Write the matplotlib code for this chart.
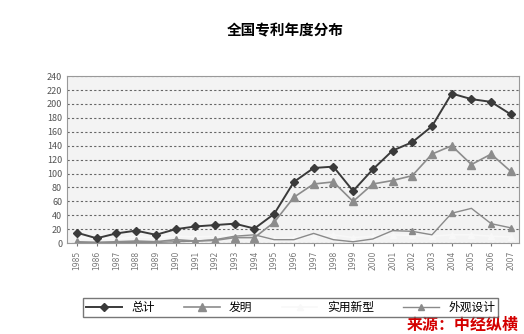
import matplotlib
matplotlib.use("Agg")

import matplotlib.pyplot as plt

plt.rcParams['font.family'] = ['Noto Sans CJK SC', 'DejaVu Sans']

years = [str(y) for y in range(1985, 2008)]
total = [15, 7, 14, 18, 12, 20, 24, 26, 28, 21, 42, 88, 108, 110, 75, 106, 133, 145, 168, 215, 207, 203, 185]
invention = [2, 1, 2, 3, 2, 5, 3, 4, 8, 8, 30, 66, 85, 88, 60, 85, 90, 97, 128, 140, 113, 128, 103]
utility = [8, 8, 6, 9, 8, 10, 9, 10, 12, 10, 6, 8, 10, 12, 8, 10, 12, 11, 10, 12, 12, 10, 9]
design = [1, 1, 1, 1, 1, 2, 3, 5, 10, 12, 5, 5, 14, 5, 2, 6, 18, 17, 12, 43, 50, 28, 22]
ylabels = list(range(0, 241, 20))

fig = plt.figure(figsize=(5.24, 3.34), dpi=100)
ax = fig.add_axes([0.128, 0.272, 0.862, 0.5])
ax.set_facecolor('#f3f3f3')

x = range(len(years))
ax.plot(x, utility, color='#f8f8f8', marker='^', ms=5, lw=1.2, label='实用新型')
ax.plot(x, design, color='#8a8a8a', marker='^', ms=5, lw=1.0, label='外观设计', markevery=[17, 19, 21, 22])
ax.plot(x, invention, color='#8c8c8c', marker='^', ms=5.5, lw=1.2, label='发明')
ax.plot(x, total, color='#3a3a3a', marker='D', ms=4.5, lw=1.4, label='总计')

ax.set_ylim(0, 240)
ax.set_xlim(-0.5, len(years) - 0.6)
ax.set_yticks(ylabels)
ax.set_xticks(list(x))
ax.set_xticklabels(years, rotation=90, fontsize=5.5, color='#555555', family='DejaVu Sans')
ax.tick_params(axis='y', labelsize=6.5, colors='#555555', length=0)
ax.tick_params(axis='x', length=2, colors='#777777')
ax.grid(axis='y', color='#666666', ls=(0, (2, 2)), lw=0.8)
for s in ax.spines.values():
    s.set_color('#999999')
    s.set_linewidth(0.8)

h, l = ax.get_legend_handles_labels()
order = [3, 2, 0, 1]
fig.legend([h[i] for i in order], [l[i] for i in order], loc='center',
           bbox_to_anchor=(0.555, 0.08), ncol=4, fontsize=8.5, frameon=True,
           fancybox=False, edgecolor='#555555', handlelength=3, columnspacing=2.5,
           borderpad=0.25)

fig.text(0.545, 0.91, '全国专利年度分布', ha='center', va='center', fontsize=10.5, fontweight='bold')
fig.text(0.99, 0.003, '来源：中经纵横', ha='right', va='bottom', fontsize=11.5,
         fontweight='bold', color='#d40000')

fig.savefig('out.png', dpi=100)
